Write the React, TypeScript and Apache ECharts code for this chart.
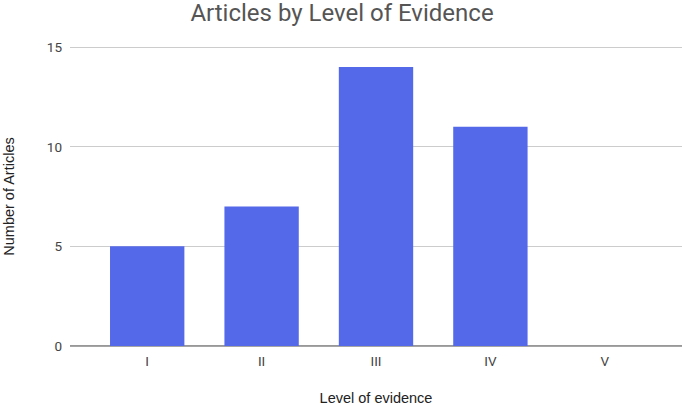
import React, { useEffect, useRef } from "react";
import * as echarts from "echarts";

const categories = ["I", "II", "III", "IV", "V"];
const articles = [5, 7, 14, 11, 0];
const yTicks = { min: 0, max: 15, interval: 5 };

export default function App() {
  const ref = useRef<HTMLDivElement>(null);
  useEffect(() => {
    if (!ref.current) return;
    const chart = echarts.init(ref.current, null, { renderer: "svg" });
    const font = "Roboto, 'Noto Sans', Arial, sans-serif";
    const font2 = "Arial, 'Liberation Sans', sans-serif";
    chart.setOption({
      animation: false,
      backgroundColor: "#ffffff",
      title: {
        text: "Articles by Level of Evidence",
        left: "center",
        top: -4,
        textStyle: { fontFamily: font, fontSize: 24, fontWeight: "normal", color: "#555555" },
      },
      grid: [
        { left: 70, right: 2, top: 47, bottom: 58, outerBoundsMode: "none", containLabel: false },
        { left: 90, right: 22, top: 47, bottom: 58, outerBoundsMode: "none", containLabel: false },
      ],
      xAxis: [
        {
          gridIndex: 0,
          type: "value",
          min: 0,
          max: 1,
          axisLine: { show: false },
          axisTick: { show: false },
          axisLabel: { show: false },
          splitLine: { show: false },
        },
        {
          gridIndex: 1,
          type: "category",
          data: categories,
          axisLine: { show: false },
          axisTick: { show: false },
          axisLabel: { color: "#444444", fontFamily: font, fontSize: 13.5, margin: 8 },
          name: "Level of evidence",
          nameLocation: "middle",
          nameGap: 44,
          nameTextStyle: { color: "#222222", fontFamily: font2, fontSize: 14.5 },
        },
      ],
      yAxis: [
        {
          gridIndex: 0,
          type: "value",
          ...yTicks,
          axisLine: { show: false },
          axisTick: { show: false },
          axisLabel: { color: "#444444", fontFamily: font, fontSize: 13.5, margin: 8 },
          splitLine: { lineStyle: { color: "#cccccc", width: 1 } },
          name: "Number of Articles",
          nameLocation: "middle",
          nameGap: 54,
          nameTextStyle: { color: "#222222", fontFamily: font2, fontSize: 14.5 },
        },
        {
          gridIndex: 1,
          type: "value",
          ...yTicks,
          axisLine: { show: false },
          axisTick: { show: false },
          axisLabel: { show: false },
          splitLine: { show: false },
        },
      ],
      series: [
        {
          type: "line",
          xAxisIndex: 0,
          yAxisIndex: 0,
          data: [[0, 0], [1, 0]],
          symbol: "none",
          lineStyle: { color: "#333333", width: 1.2 },
          silent: true,
          z: 1,
        },
        {
          type: "bar",
          xAxisIndex: 1,
          yAxisIndex: 1,
          data: articles,
          barWidth: "65%",
          itemStyle: { color: "#5469ea" },
          z: 2,
        },
      ],
    });
    return () => chart.dispose();
  }, []);
  return (
    <div
      ref={ref}
      style={{ position: "fixed", left: 0, top: 0, width: 684, height: 404 }}
    />
  );
}
